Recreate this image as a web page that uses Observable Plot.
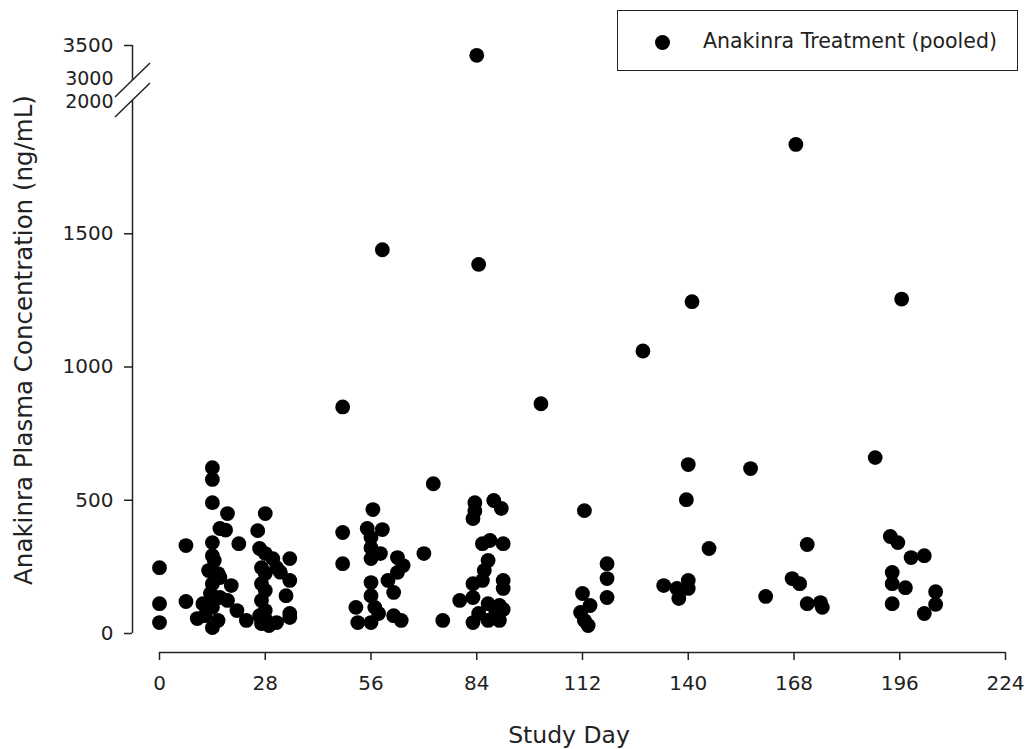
<!DOCTYPE html>
<html><head><meta charset="utf-8">
<script src="https://cdn.jsdelivr.net/npm/d3@7"></script>
<script src="https://cdn.jsdelivr.net/npm/@observablehq/plot@0.6"></script>
<style>
body{margin:0;background:#fff;font-family:"DejaVu Sans",sans-serif;}
#wrap{position:relative;width:1025px;height:749px;overflow:hidden;}
#legend{position:absolute;left:617px;top:10px;width:401px;height:61px;border:1.5px solid #222;box-sizing:border-box;background:#fff;}
#legend .dot{position:absolute;left:37px;top:24px;width:15px;height:15px;border-radius:50%;background:#000;}
#legend .lab{position:absolute;left:85px;top:18px;font-size:20.5px;color:#222;white-space:nowrap;line-height:24px;}
</style></head><body>
<div id="wrap"></div>
<script>
const days = [
  0,0,0,7,7,14,14,14,18,16,17.5,14,21,14,14.5,13,15.5,19,14,16,13.5,16,11.5,14,18,20.5,10,12,14,15.5,23,
  26,28,26.5,28,30,34.5,27,28,31,32,34.5,27,28,33.5,27,28,26.5,34.5,34.5,27,29,31,28,
  72.5,56.5,48.5,48.5,55,59,56,56,58.5,56,63,64.5,63,60.5,56,70,62,56,52,57,58,52.5,56,62,64,75,59,48.5,
  83.5,83,83.5,88.5,90.5,85.5,87.5,91,87,86,85.5,91,91,83,79.5,83,87,90,84.5,87,90,83,89,91,84,84.5,
  112.5,140,156.5,139.5,145.5,118.5,118.5,118.5,112,114,111.5,112.5,113.5,133.5,140,140,137,137.5,160.5,128,141,101,
  189.5,171.5,167.5,169.5,171.5,175,175.5,193.5,195.5,199,202.5,194,194,197.5,194,205.5,205.5,202.5,168.5,196.5
];
const conc = [
  247,112,41,330,120,622,578,491,450,394,388,341,337,292,274,236,225,180,187,210,150,135,112,98,124,86,56,67,22,49,49,
  386,450,319,300,281,281,247,225,247,230,199,187,161,142,124,86,67,75,60,37,30,41,55,
  562,465,379,262,394,390,360,322,300,281,285,255,229,199,191,300,154,142,98,98,75,41,41,67,49,49,1440,850,
  491,431,460,499,469,337,349,337,274,236,199,199,169,187,124,135,112,105,75,49,49,41,85,90,3360,1385,
  461,634,619,502,319,262,206,135,150,105,79,49,30,180,199,169,169,131,139,1060,1245,862,
  660,334,206,187,112,116,98,364,341,285,292,229,187,172,112,157,109,75,1835,1255
];
const xTicks = [0,28,56,84,112,140,168,196,224];
const yTicks = [0,500,1000,1500,3500];
const yBreakTicks = [2000,3000];
const xLabel = "Study Day";
const yLabel = "Anakinra Plasma Concentration (ng/mL)";
const legendLabel = "Anakinra Treatment (pooled)";

const data = days.map((d,i)=>({day:d, conc:conc[i]}));
const ink = "#222";

// broken y axis: 0–2000 at full scale, 3000–3500 compressed just above the break
const breakLow = 2000, breakHigh = 3000, breakGap = 75, upperFactor = 0.2627;
const brk = v => v <= breakLow ? v : breakLow + breakGap + (v - breakHigh) * upperFactor;
const unbrk = u => u <= breakLow ? u : breakHigh + (u - breakLow - breakGap) / upperFactor;
const fmt = u => String(Math.round(unbrk(u)));

const chart = Plot.plot({
  width:1025, height:749,
  marginLeft:132, marginRight:20, marginTop:45, marginBottom:97,
  x:{domain:[0,224], range:[159,1005]},
  y:{transform:brk, domain:[0, brk(3500)], range:[633,45]},
  style:{fontFamily:"DejaVu Sans", fontSize:"20px", color:ink, background:"#fff"},
  marks:[
    Plot.axisX({ticks:xTicks, tickSize:8, tickPadding:15, label:null, stroke:ink, strokeWidth:1.5, tickFormat:d=>String(d)}),
    Plot.axisY({ticks:yTicks.map(brk), tickSize:8, tickPadding:11, label:null, stroke:ink, strokeWidth:1.5, tickFormat:fmt}),
    Plot.axisY({ticks:[brk(yBreakTicks[1])], tickSize:0, tickPadding:19, dy:-2, label:null, tickFormat:fmt, fontSize:19}),
    Plot.axisY({ticks:[brk(yBreakTicks[0])], tickSize:0, tickPadding:19, dy:1, label:null, tickFormat:fmt, fontSize:19}),
    Plot.ruleY([0], {x1:0, x2:224, dy:19, stroke:ink, strokeWidth:1.5}),
    Plot.ruleX([0], {y1:0, y2:breakLow, dx:-27, stroke:ink, strokeWidth:1.5}),
    Plot.ruleX([0], {y1:breakHigh, y2:3500, dx:-27, stroke:ink, strokeWidth:1.5}),
    Plot.dot(data, {x:"day", y:"conc", r:7.4, fill:"#000"}),
    Plot.text([xLabel], {frameAnchor:"bottom", textAnchor:"middle", lineAnchor:"middle", dy:83, fontSize:23.5, fill:ink}),
    Plot.text([yLabel], {frameAnchor:"left", textAnchor:"middle", lineAnchor:"middle", rotate:-90, dx:-108, dy:-9, fontSize:24.5, fill:ink})
  ]
});

// axis-break slashes, placed from the scale descriptors
const sxd = chart.scale("x"), syd = chart.scale("y");
const px = d3.scaleLinear(sxd.domain, sxd.range);
const py = d3.scaleLinear(syd.domain, syd.range);
const ax = px(0) - 27;
const svg = d3.select(chart);
[py(brk(breakHigh)), py(brk(breakLow))].forEach(cy => {
  svg.append("line").attr("x1", ax-17).attr("y1", cy+17).attr("x2", ax+18).attr("y2", cy-17)
    .attr("stroke", ink).attr("stroke-width", 1.5);
});

const wrap = document.getElementById("wrap");
wrap.appendChild(chart);
const lg = document.createElement("div");
lg.id = "legend";
lg.innerHTML = '<div class="dot"></div><div class="lab"></div>';
lg.querySelector(".lab").textContent = legendLabel;
wrap.appendChild(lg);
</script>
</body></html>
